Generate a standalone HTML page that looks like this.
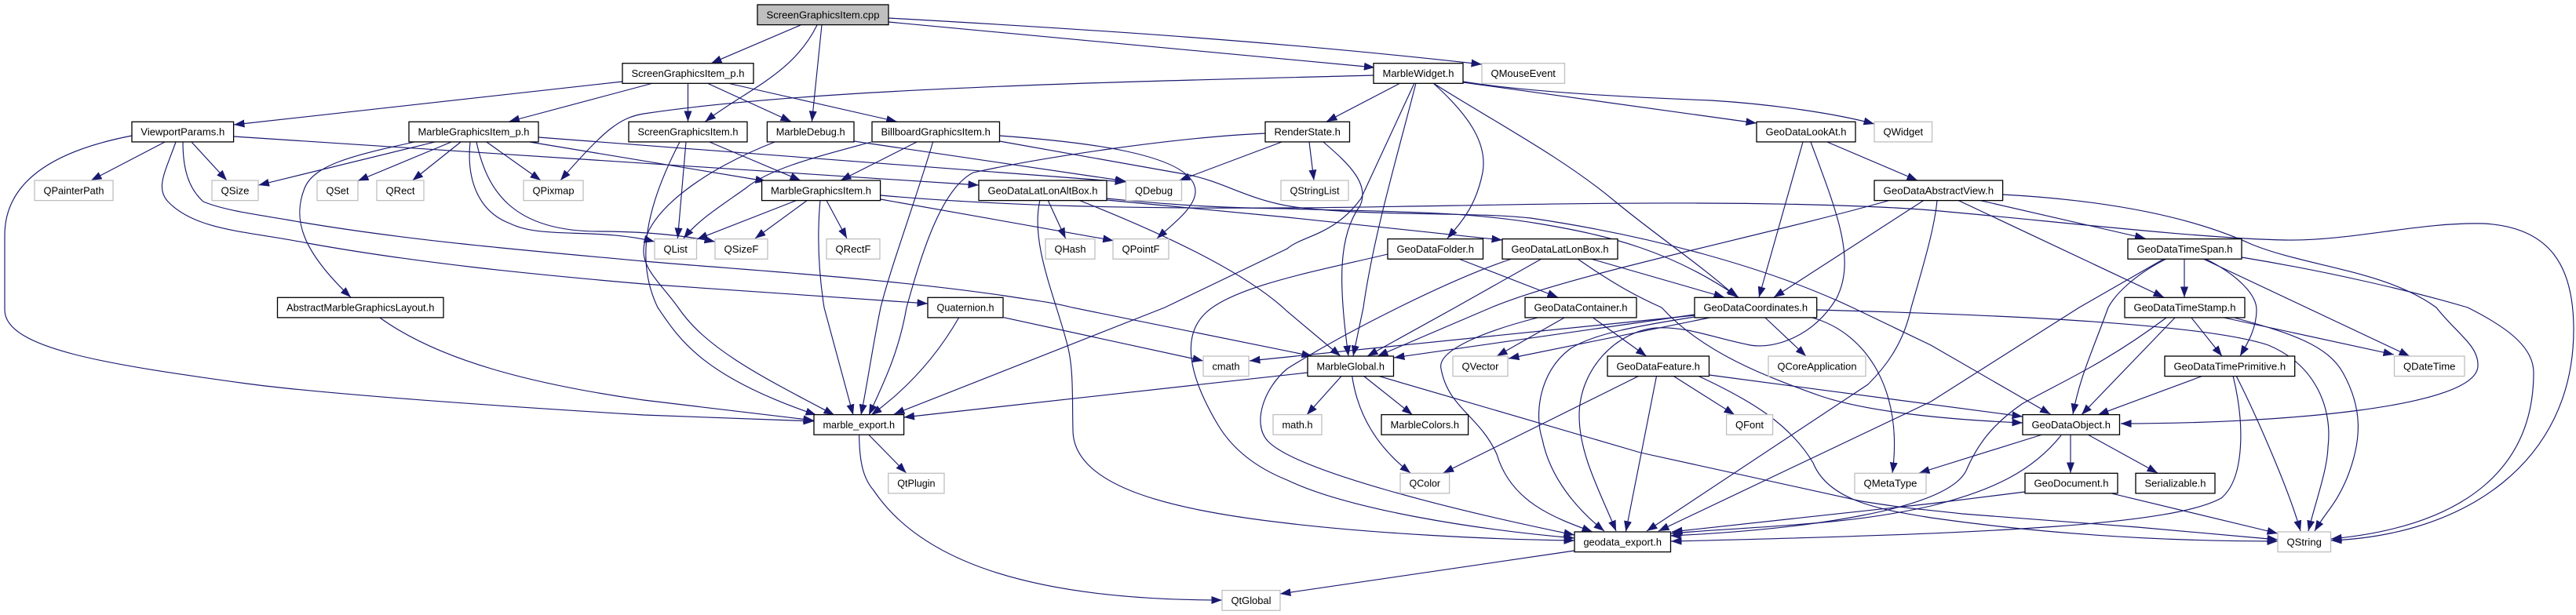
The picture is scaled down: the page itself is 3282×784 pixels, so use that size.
<!DOCTYPE html>
<html><head><meta charset="utf-8"><title>ScreenGraphicsItem.cpp include graph</title>
<style>
html,body{margin:0;padding:0;background:#fff}
svg{display:block}
text{font-family:"Liberation Sans",sans-serif;font-size:13.3px;fill:#000;text-anchor:middle}
.e path{fill:none;stroke:#191970;stroke-width:1.15;marker-end:url(#a)}
.n rect{fill:#fff;stroke:#000;stroke-width:1.3}
.g rect{fill:#fff;stroke:#bfbfbf;stroke-width:1.3}
</style></head><body>
<svg width="3282" height="784" viewBox="0 0 3282 784" xmlns="http://www.w3.org/2000/svg">
<defs><marker id="a" markerUnits="userSpaceOnUse" markerWidth="14" markerHeight="10" refX="13.5" refY="5" orient="auto"><polygon points="0,0 13.5,5 0,10" fill="#191970"/></marker></defs>
<g class="e">
<path d="M1020 32L906 80.7"/>
<path d="M1041 32C1010 95 950 115 898.5 155"/>
<path d="M1047 32L1034.4 155"/>
<path d="M1132 28L1751.4 86"/>
<path d="M1132 23C1400 38 1640 54 1888 82"/>
<path d="M793 104L298 159"/>
<path d="M832 106L648.5 155"/>
<path d="M876.5 106L876.5 155"/>
<path d="M901 106L1008 155"/>
<path d="M927 106L1142.7 155"/>
<path d="M210 181L116 230"/>
<path d="M244 181L289 230"/>
<path d="M224 181C210 220 198 240 214 257C250 295 320 295 392 310C530 335 680 350 820 362L1182 387"/>
<path d="M233 181C233 215 240 240 259 257C290 270 340 275 382 283C530 308 680 320 820 333C960 345 1130 355 1280 377C1310 382 1340 385 1366 392L1672 454"/>
<path d="M298 174L1247 236"/>
<path d="M168 173C80 190 6 225 6 300L6 395C6 445 140 465 314 489C420 503 640 518 820 529L1037 537"/>
<path d="M554 181L329.5 236"/>
<path d="M528 181C450 198 400 210 388 240C372 280 385 320 447 379"/>
<path d="M575 181L456 230.5"/>
<path d="M587 181L525.6 230"/>
<path d="M620 181L689 230"/>
<path d="M599 181C594 230 610 270 650 285C690 305 760 290 834 308"/>
<path d="M607 181C620 240 650 295 763 295C810 295 860 298 911 308"/>
<path d="M675 181L976 231"/>
<path d="M686 175L1434 232"/>
<path d="M1750 96C1500 103 1050 110 820 145C790 150 770 165 714 230"/>
<path d="M904 181L1020 230"/>
<path d="M874 181L863.4 304"/>
<path d="M866 181C825 260 808 330 838 392C865 432 895 480 1040 529"/>
<path d="M987 181C900 215 820 270 820 320C820 345 845 365 864 392C900 445 970 480 1063 529"/>
<path d="M1088 180L1434.5 231"/>
<path d="M1168 181L1071 230"/>
<path d="M1110 181C1040 200 980 215 950 240C915 265 890 280 871 304"/>
<path d="M1188.6 181C1165 260 1135 340 1122 392C1112 440 1105 490 1097 529"/>
<path d="M1273.5 173C1370 180 1525 195 1523 245C1522 265 1495 285 1474 304"/>
<path d="M1273.5 180L1515 223C1560 232 1590 255 1650 264C1750 276 1880 270 1950 278C2100 300 2250 340 2360 392L2460 440L2612.5 528"/>
<path d="M1122 249C1280 263 1450 266 1640 265C1800 264 2000 258 2163 259C2280 259 2400 263 2460 268C2600 280 2800 304 2912 306C3000 307 3080 283 3165 285C3250 290 3279 340 3279 420C3279 590 3140 682 2970 689"/>
<path d="M1410 255L1640 277L1914 306"/>
<path d="M1374 255C1450 285 1580 340 1640 397L1708 454"/>
<path d="M1325 255C1312 310 1345 380 1360 440C1368 470 1366 510 1367 549C1368 620 1490 650 1640 667C1750 680 1900 688 2006 689"/>
<path d="M1335 255L1357.6 304"/>
<path d="M1410 253C1500 262 1560 265 1640 266C1750 270 1860 268 1960 285C2050 300 2130 320 2215 379"/>
<path d="M1016 255L888 305"/>
<path d="M1029 255L962 304"/>
<path d="M1052.7 255L1079 304"/>
<path d="M1045 255C1040 310 1045 360 1050 392L1087 529"/>
<path d="M1122 254L1418.7 306.7"/>
<path d="M1784 106L1690 155"/>
<path d="M1802 106L1734 253C1700 300 1660 300 1640 317L1484 392L1139 528"/>
<path d="M1804 106C1780 200 1750 300 1737 392L1724 454"/>
<path d="M1826 106C1875 150 1895 185 1889 220C1880 265 1860 285 1844 304"/>
<path d="M1826 106C1900 153 1990 200 2058 257C2110 300 2170 340 2212.6 379"/>
<path d="M1864 105L2238 157"/>
<path d="M1864 104C1950 118 2100 125 2180 128C2260 133 2340 145 2388 158"/>
<path d="M1633 181L1502.5 230"/>
<path d="M1668 181L1674 230"/>
<path d="M1686 181C1720 210 1745 235 1733 262C1705 300 1705 360 1718 454"/>
<path d="M1612 170C1500 175 1330 200 1240 220C1200 240 1175 320 1155 392C1145 450 1125 490 1107 529"/>
<path d="M1221.6 405C1190 460 1150 500 1110 529"/>
<path d="M1278.7 404.7L1533 460"/>
<path d="M484 405C560 460 680 490 820 510L1037 536"/>
<path d="M1666 475L1151.5 532"/>
<path d="M1709.5 479L1665 528.7"/>
<path d="M1722.6 479C1730 530 1755 570 1797 603"/>
<path d="M1737 479L1799.5 528.7"/>
<path d="M1755 479L2090 577L2372 639C2440 650 2460 650 2500 655L2723 672L2902 688"/>
<path d="M1858.6 330L1985 379"/>
<path d="M1768 324C1680 345 1570 365 1535 400C1505 430 1515 480 1552 542C1575 580 1610 600 1640 612C1720 650 1880 675 2006 686"/>
<path d="M1926 330C1850 355 1720 420 1640 470C1610 495 1595 540 1615 562C1650 600 1850 650 2006 682"/>
<path d="M1964 330L1854 392L1742 454"/>
<path d="M2010 330C2060 365 2090 380 2117 392C2170 450 2250 480 2320 505C2380 525 2480 535 2577 539"/>
<path d="M2027 330L2197 379"/>
<path d="M1993 405L1907 454"/>
<path d="M2029.6 405L2097.6 454"/>
<path d="M1959 405C1900 420 1830 445 1836 470C1845 520 1885 530 1907 579C1925 640 1980 660 2029 678"/>
<path d="M2159 401L1776 456"/>
<path d="M2178 405L1922 457"/>
<path d="M2159 402L1592 460"/>
<path d="M2159 404C2090 415 2030 425 2000 445C1960 475 1955 530 1965 560C1975 610 2010 650 2044 677"/>
<path d="M2249 405L2301 454"/>
<path d="M2309 405C2380 425 2425 500 2411 603"/>
<path d="M2315 395C2500 400 2800 410 2890 440C2950 465 2972 520 2966 570C2965 600 2950 640 2941 677"/>
<path d="M2307 181C2340 270 2365 330 2340 380C2310 430 2260 445 2230 440C2180 430 2150 416 2110 418C2060 422 2012 470 2012 530C2012 580 2040 630 2059 677"/>
<path d="M2297 181L2241 379"/>
<path d="M2328 181L2443 230"/>
<path d="M2088.6 479L1838.7 603"/>
<path d="M2110.6 479L2071.4 677.7"/>
<path d="M2131.5 479L2210 528.7"/>
<path d="M2177.5 478L2577 531"/>
<path d="M2163 479C2230 510 2280 540 2310 590C2330 640 2400 650 2460 660C2600 680 2750 690 2902 690"/>
<path d="M2409 255C2250 300 2000 350 1900 392L1755 454"/>
<path d="M2451.6 255L2260 379"/>
<path d="M2468 255C2465 290 2450 340 2435 392C2425 440 2400 470 2380 490L2098 677"/>
<path d="M2520.5 255L2733.5 304"/>
<path d="M2494 255L2757 379"/>
<path d="M2551.6 248C2680 255 2790 275 2870 312C2940 340 3040 345 3104 392C3130 425 3157 440 3157 465C3160 520 2900 540 2702 540"/>
<path d="M2783 330L2783 379"/>
<path d="M2760 330C2720 350 2695 375 2686 392C2665 450 2650 480 2641 528"/>
<path d="M2757 330L2649 392L2460 512L2113 677"/>
<path d="M2810 330C2850 350 2875 375 2875 395C2875 420 2862 440 2854 454"/>
<path d="M2807 330L3070 454"/>
<path d="M2856 328C2960 345 3070 370 3144 392C3200 420 3228 445 3228 475C3228 590 3150 670 2970 687"/>
<path d="M2792 405L2831 454"/>
<path d="M2771 405L2652 528.7"/>
<path d="M2760 405C2680 465 2620 490 2576 515C2540 540 2520 565 2505 600C2480 650 2300 675 2128 683"/>
<path d="M2833.5 405L3050 452"/>
<path d="M2846.6 405C2920 425 2965 440 2985 475C3010 520 3010 560 2990 610C2975 645 2965 650 2949 677"/>
<path d="M2807 479L2673 528.7"/>
<path d="M2849 479C2870 520 2915 620 2931 677"/>
<path d="M2845 479C2860 540 2860 610 2830 635C2770 668 2560 680 2129 690"/>
<path d="M2638 554L2638 603"/>
<path d="M2660 554L2749 603"/>
<path d="M2602 554L2445 603"/>
<path d="M2626 555C2590 600 2540 625 2460 645C2350 670 2250 670 2129 680"/>
<path d="M2580 627L2460 642L2130 678"/>
<path d="M2686 628L2902 680"/>
<path d="M2006 702L1631 757"/>
<path d="M1106.6 554L1154.6 603"/>
<path d="M1094.6 554C1095 590 1100 610 1113 625C1170 710 1300 765 1557 765"/>
</g>
<g class="n">
<rect x="965" y="6" width="167" height="25.6" style="fill:#bfbfbf"/><text x="1048.5" y="23.3" textLength="144" lengthAdjust="spacingAndGlyphs">ScreenGraphicsItem.cpp</text>
<rect x="793" y="80.7" width="167" height="25.6"/><text x="876.5" y="98" textLength="144" lengthAdjust="spacingAndGlyphs">ScreenGraphicsItem_p.h</text>
<rect x="1750" y="80.7" width="114" height="25.6"/><text x="1807" y="98" textLength="91" lengthAdjust="spacingAndGlyphs">MarbleWidget.h</text>
<rect x="168" y="155.3" width="129.6" height="25.6"/><text x="232.8" y="172.6" textLength="107" lengthAdjust="spacingAndGlyphs">ViewportParams.h</text>
<rect x="521" y="155.3" width="165" height="25.6"/><text x="603.5" y="172.6" textLength="142" lengthAdjust="spacingAndGlyphs">MarbleGraphicsItem_p.h</text>
<rect x="801" y="155.3" width="151" height="25.6"/><text x="876.5" y="172.6" textLength="128" lengthAdjust="spacingAndGlyphs">ScreenGraphicsItem.h</text>
<rect x="977.4" y="155.3" width="110.6" height="25.6"/><text x="1032.7" y="172.6" textLength="88" lengthAdjust="spacingAndGlyphs">MarbleDebug.h</text>
<rect x="1111" y="155.3" width="162.5" height="25.6"/><text x="1192.2" y="172.6" textLength="139.5" lengthAdjust="spacingAndGlyphs">BillboardGraphicsItem.h</text>
<rect x="1612" y="155.3" width="107.5" height="25.6"/><text x="1665.7" y="172.6" textLength="84.5" lengthAdjust="spacingAndGlyphs">RenderState.h</text>
<rect x="2238" y="155.3" width="126" height="25.6"/><text x="2301" y="172.6" textLength="103" lengthAdjust="spacingAndGlyphs">GeoDataLookAt.h</text>
<rect x="970.6" y="230" width="151" height="25.6"/><text x="1046" y="247.3" textLength="128" lengthAdjust="spacingAndGlyphs">MarbleGraphicsItem.h</text>
<rect x="1247" y="230" width="163" height="25.6"/><text x="1328.5" y="247.3" textLength="140" lengthAdjust="spacingAndGlyphs">GeoDataLatLonAltBox.h</text>
<rect x="2388" y="230" width="163.6" height="25.6"/><text x="2469.8" y="247.3" textLength="140.6" lengthAdjust="spacingAndGlyphs">GeoDataAbstractView.h</text>
<rect x="1768" y="304.6" width="121.5" height="25.6"/><text x="1828.7" y="321.9" textLength="98.5" lengthAdjust="spacingAndGlyphs">GeoDataFolder.h</text>
<rect x="1914" y="304.6" width="147" height="25.6"/><text x="1987.5" y="321.9" textLength="124" lengthAdjust="spacingAndGlyphs">GeoDataLatLonBox.h</text>
<rect x="2711" y="304.6" width="145" height="25.6"/><text x="2783.5" y="321.9" textLength="122" lengthAdjust="spacingAndGlyphs">GeoDataTimeSpan.h</text>
<rect x="353.5" y="379.3" width="211.5" height="25.6"/><text x="459.2" y="396.6" textLength="188.5" lengthAdjust="spacingAndGlyphs">AbstractMarbleGraphicsLayout.h</text>
<rect x="1182" y="379.3" width="96" height="25.6"/><text x="1230" y="396.6" textLength="73" lengthAdjust="spacingAndGlyphs">Quaternion.h</text>
<rect x="1943" y="379.3" width="142" height="25.6"/><text x="2014" y="396.6" textLength="119" lengthAdjust="spacingAndGlyphs">GeoDataContainer.h</text>
<rect x="2159" y="379.3" width="155.7" height="25.6"/><text x="2236.8" y="396.6" textLength="132.7" lengthAdjust="spacingAndGlyphs">GeoDataCoordinates.h</text>
<rect x="2707" y="379.3" width="153" height="25.6"/><text x="2783.5" y="396.6" textLength="130" lengthAdjust="spacingAndGlyphs">GeoDataTimeStamp.h</text>
<rect x="1666" y="454" width="109.5" height="25.6"/><text x="1720.7" y="471.3" textLength="86.5" lengthAdjust="spacingAndGlyphs">MarbleGlobal.h</text>
<rect x="2048" y="454" width="129.5" height="25.6"/><text x="2112.7" y="471.3" textLength="106.5" lengthAdjust="spacingAndGlyphs">GeoDataFeature.h</text>
<rect x="2758" y="454" width="165.7" height="25.6"/><text x="2840.8" y="471.3" textLength="142.7" lengthAdjust="spacingAndGlyphs">GeoDataTimePrimitive.h</text>
<rect x="1037" y="528.6" width="114.6" height="25.6"/><text x="1094.3" y="545.9" textLength="91.6" lengthAdjust="spacingAndGlyphs">marble_export.h</text>
<rect x="1760" y="528.6" width="110.6" height="25.6"/><text x="1815.3" y="545.9" textLength="87.6" lengthAdjust="spacingAndGlyphs">MarbleColors.h</text>
<rect x="2577" y="528.6" width="123.5" height="25.6"/><text x="2638.7" y="545.9" textLength="100.5" lengthAdjust="spacingAndGlyphs">GeoDataObject.h</text>
<rect x="2580" y="603.3" width="118" height="25.6"/><text x="2639" y="620.6" textLength="95" lengthAdjust="spacingAndGlyphs">GeoDocument.h</text>
<rect x="2721" y="603.3" width="101" height="25.6"/><text x="2771.5" y="620.6" textLength="78" lengthAdjust="spacingAndGlyphs">Serializable.h</text>
<rect x="2006" y="678" width="122.5" height="25.6"/><text x="2067.2" y="695.3" textLength="99.5" lengthAdjust="spacingAndGlyphs">geodata_export.h</text>
</g>
<g class="g">
<rect x="1888" y="80.7" width="105.5" height="25.6"/><text x="1940.7" y="98" textLength="82.5" lengthAdjust="spacingAndGlyphs">QMouseEvent</text>
<rect x="2388" y="155.3" width="73.6" height="25.6"/><text x="2424.8" y="172.6" textLength="50.6" lengthAdjust="spacingAndGlyphs">QWidget</text>
<rect x="44" y="230" width="100" height="25.6"/><text x="94" y="247.3" textLength="77" lengthAdjust="spacingAndGlyphs">QPainterPath</text>
<rect x="270" y="230" width="59" height="25.6"/><text x="299.5" y="247.3" textLength="36" lengthAdjust="spacingAndGlyphs">QSize</text>
<rect x="404" y="230" width="52" height="25.6"/><text x="430" y="247.3" textLength="29" lengthAdjust="spacingAndGlyphs">QSet</text>
<rect x="480" y="230" width="60" height="25.6"/><text x="510" y="247.3" textLength="37" lengthAdjust="spacingAndGlyphs">QRect</text>
<rect x="667" y="230" width="76" height="25.6"/><text x="705" y="247.3" textLength="53" lengthAdjust="spacingAndGlyphs">QPixmap</text>
<rect x="1434.5" y="230" width="71" height="25.6"/><text x="1470" y="247.3" textLength="48" lengthAdjust="spacingAndGlyphs">QDebug</text>
<rect x="1632" y="230" width="86" height="25.6"/><text x="1675" y="247.3" textLength="63" lengthAdjust="spacingAndGlyphs">QStringList</text>
<rect x="834" y="304.6" width="53.5" height="25.6"/><text x="860.7" y="321.9" textLength="30.5" lengthAdjust="spacingAndGlyphs">QList</text>
<rect x="911" y="304.6" width="67" height="25.6"/><text x="944.5" y="321.9" textLength="44" lengthAdjust="spacingAndGlyphs">QSizeF</text>
<rect x="1053" y="304.6" width="68" height="25.6"/><text x="1087" y="321.9" textLength="45" lengthAdjust="spacingAndGlyphs">QRectF</text>
<rect x="1332" y="304.6" width="63" height="25.6"/><text x="1363.5" y="321.9" textLength="40" lengthAdjust="spacingAndGlyphs">QHash</text>
<rect x="1418" y="304.6" width="71" height="25.6"/><text x="1453.5" y="321.9" textLength="48" lengthAdjust="spacingAndGlyphs">QPointF</text>
<rect x="1533" y="454" width="58" height="25.6"/><text x="1562" y="471.3" textLength="35" lengthAdjust="spacingAndGlyphs">cmath</text>
<rect x="1851" y="454" width="70" height="25.6"/><text x="1886" y="471.3" textLength="47" lengthAdjust="spacingAndGlyphs">QVector</text>
<rect x="2253" y="454" width="124" height="25.6"/><text x="2315" y="471.3" textLength="101" lengthAdjust="spacingAndGlyphs">QCoreApplication</text>
<rect x="3050.5" y="454" width="89.5" height="25.6"/><text x="3095.2" y="471.3" textLength="66.5" lengthAdjust="spacingAndGlyphs">QDateTime</text>
<rect x="1622" y="528.6" width="62" height="25.6"/><text x="1653" y="545.9" textLength="39" lengthAdjust="spacingAndGlyphs">math.h</text>
<rect x="2199.6" y="528.6" width="59" height="25.6"/><text x="2229" y="545.9" textLength="36" lengthAdjust="spacingAndGlyphs">QFont</text>
<rect x="1131.7" y="603.3" width="71.3" height="25.6"/><text x="1167.4" y="620.6" textLength="48.3" lengthAdjust="spacingAndGlyphs">QtPlugin</text>
<rect x="1784" y="603.3" width="62.6" height="25.6"/><text x="1815.3" y="620.6" textLength="39.6" lengthAdjust="spacingAndGlyphs">QColor</text>
<rect x="2363" y="603.3" width="91" height="25.6"/><text x="2408.5" y="620.6" textLength="68" lengthAdjust="spacingAndGlyphs">QMetaType</text>
<rect x="2902" y="678" width="67.5" height="25.6"/><text x="2935.7" y="695.3" textLength="44.5" lengthAdjust="spacingAndGlyphs">QString</text>
<rect x="1557" y="752.6" width="74" height="25.6"/><text x="1594" y="769.9" textLength="51" lengthAdjust="spacingAndGlyphs">QtGlobal</text>
</g>
</svg>
</body></html>
